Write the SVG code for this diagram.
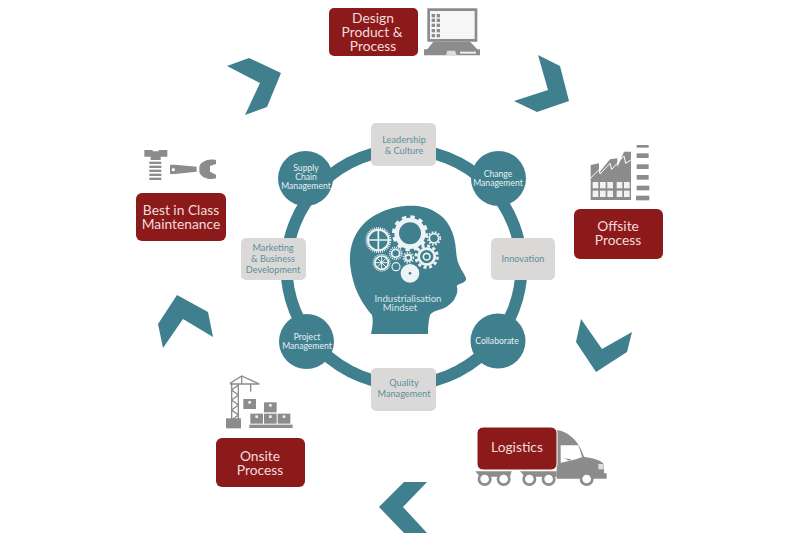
<svg xmlns="http://www.w3.org/2000/svg" width="800" height="542" viewBox="0 0 800 542">
<style>
text{font-family:"Lato","Open Sans",sans-serif;text-anchor:middle}
.teal{fill:#3f7f8e}
.red{fill:#8c1a1a}
.g{fill:#8c8c8c}
.box{fill:#dad9d8}
.lab{font-size:13.800px;fill:#f1dcdc}
.sm{font-size:8.600px;fill:#e6f0f2}
.gt{font-size:9.200px;fill:#5f8f9b}
.w{fill:none;stroke:#eef4f5}
.wf{fill:#eef4f5}
</style>
<rect width="800" height="542" fill="#fff"/>
<g id="connectors">
<circle cx="404" cy="267" r="117.500" fill="none" stroke="#3f7f8e" stroke-width="12"/>
<polygon class="teal" points="227,66 249,58 281,73 267,107 245,115 260,83"/>
<polygon class="teal" points="538,55 560,66 569,101 537,112 514,101 548,90"/>
<polygon class="teal" points="581,319 602,349 632,332 627,352 596,372 576,342"/>
<polygon class="teal" points="427,482 404,482 379,507 404,533 427,533 403,507"/>
<polygon class="teal" points="177,295 208,312 213,337 183,319 163,348 158,324"/>
</g>
<g id="node-leadership"><rect class="box" x="371" y="123" width="65" height="43" rx="5"/><text class="gt" x="404" y="143">Leadership</text><text class="gt" x="404" y="154">&amp; Culture</text></g>
<g id="node-innovation"><rect class="box" x="491" y="238" width="64" height="42" rx="5"/><text class="gt" x="523" y="262">Innovation</text></g>
<g id="node-quality"><rect class="box" x="371" y="368" width="65" height="43" rx="5"/><text class="gt" x="404" y="386">Quality</text><text class="gt" x="404" y="397">Management</text></g>
<g id="node-marketing"><rect class="box" x="241" y="238" width="65" height="42" rx="5"/><text class="gt" x="273" y="251">Marketing</text><text class="gt" x="273" y="262">&amp; Business</text><text class="gt" x="273" y="272.500">Development</text></g>
<g id="node-supply"><circle class="teal" cx="305.500" cy="178.500" r="27.500"/><text class="sm" x="306" y="171">Supply</text><text class="sm" x="306" y="180">Chain</text><text class="sm" x="306" y="189">Management</text></g>
<g id="node-change"><circle class="teal" cx="498.500" cy="178.500" r="27.500"/><text class="sm" x="498" y="177">Change</text><text class="sm" x="498" y="186">Management</text></g>
<g id="node-collaborate"><circle class="teal" cx="498" cy="341" r="27.500"/><text class="sm" x="497" y="344">Collaborate</text></g>
<g id="node-project"><circle class="teal" cx="306.500" cy="341.500" r="27.500"/><text class="sm" x="307" y="340">Project</text><text class="sm" x="307" y="349">Management</text></g>
<g id="node-mindset">
<g transform="translate(340 190) scale(.3333)">
<path class="teal" d="M93 432C98 410 100 390 96 375C70 345 38 300 30 220C26 150 60 95 120 68C170 45 240 38 285 65C325 85 345 130 348 180C350 205 352 215 362 235C370 250 380 262 378 270C372 280 358 280 350 287C354 300 352 312 346 322C343 332 334 340 320 350C300 362 280 360 270 375C265 395 264 415 264 432Z"/>
<g class="w">
<circle cx="210" cy="130" r="40" stroke-width="14"/>
<circle cx="210" cy="130" r="48" stroke-width="12" stroke-dasharray="13 12.100"/>
<circle cx="115" cy="150" r="31" stroke-width="6"/>
<circle cx="115" cy="150" r="36" stroke-width="6" stroke-dasharray="3 3"/>
<path d="M84 150H146M115 119V181" stroke-width="5"/>
<circle cx="282" cy="145" r="14" stroke-width="5"/>
<circle cx="282" cy="145" r="19" stroke-width="5" stroke-dasharray="5 5"/>
<circle cx="167" cy="190" r="12" stroke-width="5"/>
<circle cx="167" cy="190" r="18" stroke-width="5" stroke-dasharray="3 3"/>
<circle cx="205" cy="203" r="9" stroke-width="6"/>
<circle cx="205" cy="203" r="15" stroke-width="5" stroke-dasharray="4 4"/>
<circle cx="260" cy="200" r="24" stroke-width="8"/>
<circle cx="260" cy="200" r="10" stroke-width="5"/>
<circle cx="260" cy="200" r="32" stroke-width="9" stroke-dasharray="9 7.800"/>
<circle cx="125" cy="218" r="20" stroke-width="5"/>
<circle cx="125" cy="218" r="25" stroke-width="4" stroke-dasharray="3 3"/>
<path d="M125 200V236M107 218H143M112 205L138 231M138 205L112 231" stroke-width="3"/>
<circle cx="168" cy="230" r="12" stroke-width="3.500"/>
</g>
<circle class="wf" cx="210" cy="250" r="28"/>
<circle class="teal" cx="210" cy="250" r="4"/>
</g>
<text x="408" y="301.500" font-size="9.600" fill="#d8e7ea">Industrialisation</text>
<text x="400" y="311" font-size="9.600" fill="#d8e7ea">Mindset</text>
</g>
<g id="node-design">
<rect class="red" x="329" y="8" width="89" height="48" rx="5"/>
<text class="lab" x="373" y="23">Design</text><text class="lab" x="372" y="37">Product &amp;</text><text class="lab" x="373" y="50.500">Process</text>
<g transform="translate(320 0) scale(.3333)">
<rect x="326" y="29" width="142" height="92" fill="#f6f6f6"/>
<path class="g" fill-rule="evenodd" d="M322 25H472V125H322ZM330 33V117H464V33Z"/>
<g class="g"><rect x="335" y="42" width="10" height="10"/><rect x="350" y="42" width="10" height="10"/><rect x="335" y="56" width="10" height="10"/><rect x="350" y="56" width="10" height="10"/><rect x="335" y="71" width="10" height="10"/><rect x="350" y="71" width="10" height="10"/><rect x="335" y="87" width="10" height="10"/><rect x="350" y="87" width="10" height="10"/><rect x="335" y="102" width="10" height="10"/><rect x="350" y="102" width="10" height="10"/></g>
<path class="g" d="M340 125H450L472 148H480V166H312V148H322Z"/>
<rect x="420" y="155" width="48" height="6" fill="#eee"/><path d="M378 166L382 152H405L410 166Z" fill="#ddd"/>
</g>
</g>
<g id="node-offsite">
<g transform="translate(560 130) scale(.3333)">
<path class="g" d="M92 210V105L117 100V128L150 88L172 85V112L192 65H213V210Z"/>
<path d="M86 150L118 118L120 132L150 100L155 118L192 78L197 100L216 88" fill="none" stroke="#fff" stroke-width="3"/>
<g fill="#f2f2f2"><rect x="98" y="156" width="17" height="19"/><rect x="120" y="156" width="17" height="19"/><rect x="142" y="156" width="17" height="19"/><rect x="170" y="156" width="17" height="19"/><rect x="192" y="156" width="17" height="19"/><rect x="98" y="182" width="17" height="19"/><rect x="120" y="182" width="17" height="19"/><rect x="142" y="182" width="17" height="19"/><rect x="170" y="182" width="17" height="19"/><rect x="192" y="182" width="17" height="19"/></g>
<g class="g"><rect x="230" y="45" width="36" height="8"/><rect x="230" y="70" width="36" height="14"/><rect x="230" y="103" width="36" height="14"/><rect x="230" y="135" width="36" height="14"/><rect x="230" y="167" width="38" height="14"/><rect x="228" y="197" width="40" height="14"/></g>
</g>
<rect class="red" x="574" y="209" width="89" height="50" rx="6"/>
<text class="lab" x="618" y="231">Offsite</text><text class="lab" x="618" y="245">Process</text>
</g>
<g id="node-logistics">
<g transform="translate(460 410) scale(.3333)">
<path class="g" d="M290 60C330 65 360 100 372 140C400 145 428 150 432 165V190H440V206H290Z"/>
<path d="M302 106H355C362 125 366 140 366 142C345 150 320 155 302 158Z" fill="#fff"/>
<path d="M312 145L335 148L328 152Z" class="g"/>
<rect x="415" y="162" width="16" height="16" fill="#ddd"/>
<path class="g" d="M46 184H155L150 200H60ZM180 184H290V200H195Z"/>
<g fill="#fff" stroke="#8c8c8c" stroke-width="8"><circle cx="74" cy="207" r="17"/><circle cx="131" cy="207" r="17"/><circle cx="208" cy="207" r="17"/><circle cx="266" cy="207" r="17"/><circle cx="380" cy="207" r="17"/></g>
</g>
<rect class="red" x="477" y="427" width="80" height="43" rx="6" stroke="#fff" stroke-width="1"/>
<text x="517" y="452" class="lab">Logistics</text>
</g>
<g id="node-onsite">
<g transform="translate(210 370) scale(.3333)">
<g fill="none" stroke="#8c8c8c" stroke-width="4"><path d="M65 162V40M85 162V40M65 150L85 135L65 120L85 105L65 90L85 75L65 60L85 45M60 40L95 18L148 42H60M95 18V40"/><path d="M122 42V65"/></g>
<rect class="g" x="48" y="145" width="45" height="30"/>
<rect class="g" x="100" y="87" width="38" height="30"/><rect class="g" x="162" y="97" width="38" height="30"/><rect class="g" x="121" y="131" width="38" height="30"/><rect class="g" x="162" y="131" width="38" height="30"/><rect class="g" x="203" y="131" width="38" height="30"/>
<rect class="g" x="118" y="164" width="130" height="10"/>
<g fill="#eee"><rect x="115" y="93" width="8" height="8"/><rect x="177" y="102" width="8" height="8"/><rect x="136" y="136" width="8" height="8"/><rect x="177" y="136" width="8" height="8"/><rect x="218" y="136" width="8" height="8"/></g>
</g>
<rect class="red" x="216" y="438" width="89" height="49" rx="6"/>
<text class="lab" x="260" y="461">Onsite</text><text class="lab" x="260" y="474.500">Process</text>
</g>
<g id="node-maintenance">
<g transform="translate(130 140) scale(.3333)">
<path class="g" d="M43 30H68V34H86V30H112V50H92V60H62V50H43Z"/>
<g class="g"><rect x="58" y="65" width="36" height="7"/><rect x="58" y="77" width="36" height="7"/><rect x="58" y="89" width="36" height="7"/><rect x="58" y="101" width="36" height="7"/><rect x="58" y="113" width="36" height="7"/></g>
<path class="g" d="M120 74H135L200 80V95L135 102H120ZM208 82C210 65 235 55 258 60V72L240 78V95L258 104V115C235 122 210 110 208 95Z"/>
<circle cx="130" cy="89" r="5" fill="#fff"/>
</g>
<rect class="red" x="136" y="193" width="90" height="48" rx="6"/>
<text class="lab" x="181" y="215">Best in Class</text><text class="lab" x="181" y="229">Maintenance</text>
</g>
</svg>
